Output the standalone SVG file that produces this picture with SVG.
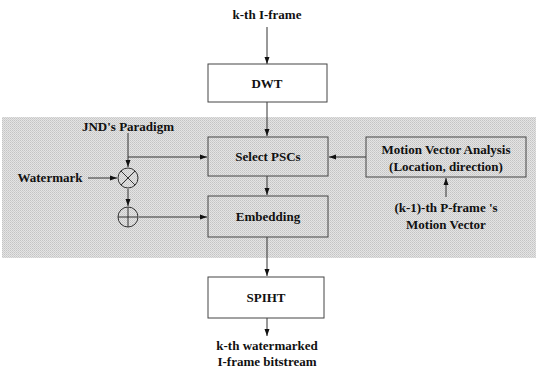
<svg xmlns="http://www.w3.org/2000/svg" width="541" height="371" viewBox="0 0 541 371">
<style>
  text { font-family: "Liberation Serif", "Times New Roman", serif; font-weight: bold; font-size: 13px; fill: #111; text-anchor: middle; }
  .box { fill: none; stroke: #444; stroke-width: 1; }
  .wbox { fill: #fff; stroke: #444; stroke-width: 1; }
  .ln { fill: none; stroke: #333; stroke-width: 1; }
</style>
<defs>
  <marker id="ah" markerWidth="8" markerHeight="8" refX="7" refY="4" orient="auto" markerUnits="userSpaceOnUse">
    <path d="M0,1.5 L7,4 L0,6.5 Z" fill="#111"/>
  </marker>
  <pattern id="dither" width="2" height="2" patternUnits="userSpaceOnUse">
    <rect width="2" height="2" fill="#e4e4e4"/>
    <rect width="1" height="1" fill="#c4c4c4"/>
    <rect x="1" y="1" width="1" height="1" fill="#cfcfcf"/>
  </pattern>
</defs>
<rect width="541" height="371" fill="#fff"/>
<rect id="band" x="2" y="117" width="534" height="141" fill="url(#dither)"/>

<g id="connectors">
  <line class="ln" x1="267" y1="27" x2="267" y2="64" marker-end="url(#ah)"/>
  <line class="ln" x1="267" y1="102" x2="267" y2="136" marker-end="url(#ah)"/>
  <line class="ln" x1="267" y1="176" x2="267" y2="195" marker-end="url(#ah)"/>
  <line class="ln" x1="267" y1="237" x2="267" y2="276" marker-end="url(#ah)"/>
  <line class="ln" x1="267" y1="318" x2="267" y2="336" marker-end="url(#ah)"/>
  <line class="ln" x1="128" y1="133" x2="128" y2="167" marker-end="url(#ah)"/>
  <line class="ln" x1="128" y1="157" x2="207" y2="157" marker-end="url(#ah)"/>
  <line class="ln" x1="88" y1="178" x2="117" y2="178" marker-end="url(#ah)"/>
  <line class="ln" x1="128" y1="189" x2="128" y2="206" marker-end="url(#ah)"/>
  <line class="ln" x1="139" y1="217" x2="207" y2="217" marker-end="url(#ah)"/>
  <line class="ln" x1="366" y1="157" x2="329" y2="157" marker-end="url(#ah)"/>
  <line class="ln" x1="446" y1="197" x2="446" y2="178" marker-end="url(#ah)"/>
</g>

<g id="input"><text x="267" y="19">k-th I-frame</text></g>
<g id="dwt"><rect class="wbox" x="208" y="64" width="119" height="38"/><text x="267" y="88">DWT</text></g>
<g id="select"><rect class="box" x="208" y="137" width="120" height="39"/><text x="268" y="161">Select PSCs</text></g>
<g id="embedding"><rect class="box" x="208" y="196" width="120" height="41"/><text x="268" y="221">Embedding</text></g>
<g id="mva"><rect class="box" x="366" y="137" width="160" height="40"/><text x="446" y="154">Motion Vector Analysis</text><text x="446" y="171">(Location, direction)</text></g>
<g id="pframe"><text x="446" y="212">(k-1)-th P-frame 's</text><text x="446" y="229">Motion Vector</text></g>
<g id="jnd"><text x="128" y="131">JND's Paradigm</text></g>
<g id="watermark"><text x="50" y="182">Watermark</text></g>
<g id="mult"><circle class="ln" cx="128" cy="178" r="10"/><line class="ln" x1="121" y1="171" x2="135" y2="185"/><line class="ln" x1="135" y1="171" x2="121" y2="185"/></g>
<g id="add"><circle class="ln" cx="128" cy="217" r="10"/><line class="ln" x1="118" y1="217" x2="138" y2="217"/><line class="ln" x1="128" y1="207" x2="128" y2="227"/></g>
<g id="spiht"><rect class="wbox" x="208" y="277" width="116" height="41"/><text x="266" y="302">SPIHT</text></g>
<g id="output"><text x="267" y="350">k-th watermarked</text><text x="267" y="366">I-frame bitstream</text></g>
</svg>
